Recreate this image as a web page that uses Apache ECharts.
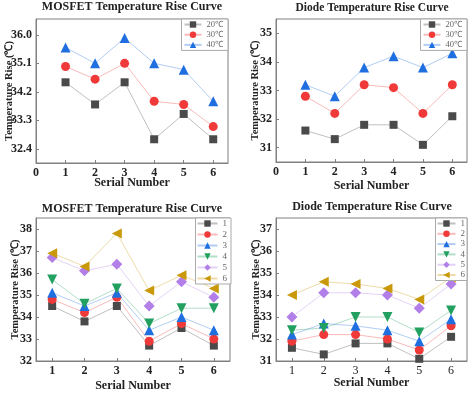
<!DOCTYPE html>
<html><head><meta charset="utf-8">
<script src="https://cdn.jsdelivr.net/npm/echarts@6/dist/echarts.min.js"></script>
<style>html,body{margin:0;padding:0;background:#fff}#c{width:471px;height:394px}</style>
</head><body><div id="c"></div>
<script>
var serial = [1, 2, 3, 4, 5, 6];
var tempNames = ['20℃', '30℃', '40℃'];
var mosT20 = [34.5, 33.8, 34.5, 32.7, 33.5, 32.7];
var mosT30 = [35.0, 34.6, 35.1, 33.9, 33.8, 33.1];
var mosT40 = [35.6, 35.1, 35.9, 35.1, 34.9, 33.9];
var dioT20 = [31.6, 31.3, 31.8, 31.8, 31.1, 32.1];
var dioT30 = [32.8, 32.2, 33.2, 33.1, 32.2, 33.2];
var dioT40 = [33.2, 32.8, 33.8, 34.2, 33.8, 34.3];
var groupNames = ['1', '2', '3', '4', '5', '6'];
var mosG1 = [34.5, 33.8, 34.5, 32.7, 33.5, 32.7];
var mosG2 = [34.8, 34.2, 34.9, 32.9, 33.7, 33.0];
var mosG3 = [35.1, 34.5, 35.1, 33.4, 34.0, 33.4];
var mosG4 = [35.7, 34.6, 35.3, 33.7, 34.4, 34.4];
var mosG5 = [36.7, 36.1, 36.4, 34.5, 35.6, 34.9];
var mosG6 = [36.9, 36.3, 37.8, 35.2, 35.9, 35.3];
var dioG1 = [31.6, 31.3, 31.8, 31.8, 31.1, 32.1];
var dioG2 = [31.9, 32.2, 32.2, 32.0, 31.5, 32.6];
var dioG3 = [32.2, 32.7, 32.6, 32.4, 31.9, 32.9];
var dioG4 = [32.4, 32.5, 33.0, 33.0, 32.3, 33.3];
var dioG5 = [33.0, 34.1, 34.1, 34.0, 33.4, 34.5];
var dioG6 = [34.0, 34.6, 34.5, 34.3, 33.8, 34.8];
var topXTicks = [0, 1, 2, 3, 4, 5, 6];
var mosTopYTicks = [32.4, 33.3, 34.2, 35.1, 36.0];
var dioTopYTicks = [31, 32, 33, 34, 35];
var mosBotYTicks = [32, 33, 34, 35, 36, 37, 38];
var dioBotYTicks = [31, 32, 33, 34, 35, 36, 37];

var FF = '"Liberation Serif","Times New Roman",serif';
var styles = [
  {color: '#4a4a4a', symbol: 'rect', size: 8, rot: 0},
  {color: '#f03a3a', symbol: 'circle', size: 9, rot: 0},
  {color: '#1f6fe0', symbol: 'triangle', size: 10, rot: 0},
  {color: '#22a060', symbol: 'triangle', size: 10, rot: 180},
  {color: '#b27ee8', symbol: 'diamond', size: 11, rot: 0},
  {color: '#c9990a', symbol: 'triangle', size: 10, rot: 90}
];
function pairs(arr) { return arr.map(function (v, i) { return [serial[i], v]; }); }
function mkSeries(name, arr, idx, st) {
  return {
    type: 'line', name: name, xAxisIndex: idx, yAxisIndex: idx,
    data: pairs(arr), symbol: st.symbol, symbolSize: st.size, symbolRotate: st.rot,
    itemStyle: {color: st.color},
    lineStyle: {color: st.color, width: 1, opacity: 0.35},
    emphasis: {disabled: true}, animation: false
  };
}
var grids = [
  {left: 36, right: 243, top: 19, height: 144},
  {left: 276, right: 4, top: 19, height: 143},
  {left: 36, right: 241, top: 218, height: 143},
  {left: 276, right: 4, top: 218, height: 143}
].map(function (g) { g.show = true; g.borderColor = '#808080'; g.borderWidth = 1; g.containLabel = false; return g; });

function xAxis(idx, min, max, ticks, bold, nameGap) {
  return {
    type: 'value', gridIndex: idx, min: min, max: max,
    name: 'Serial Number', nameLocation: 'middle', nameGap: nameGap, nameMoveOverlap: false,
    nameTextStyle: {fontFamily: FF, fontWeight: 'bold', fontSize: 12, color: '#222'},
    axisLine: {show: true, lineStyle: {color: '#808080'}},
    axisTick: {show: true, inside: true, length: 3, customValues: ticks, lineStyle: {color: '#808080'}},
    axisLabel: {customValues: ticks, fontFamily: FF, fontWeight: bold ? 'bold' : 'normal', fontSize: 12, color: '#222', margin: 4},
    splitLine: {show: false}
  };
}
function yAxis(idx, min, max, ticks, dec, nameGap) {
  return {
    type: 'value', gridIndex: idx, min: min, max: max,
    name: 'Temperature Rise (℃)', nameLocation: 'middle', nameGap: nameGap, nameMoveOverlap: false,
    nameTextStyle: {fontFamily: FF, fontWeight: 'bold', fontSize: 10.5, color: '#222'},
    axisLine: {show: true, lineStyle: {color: '#808080'}},
    axisTick: {show: true, inside: true, length: 3, customValues: ticks, lineStyle: {color: '#808080'}},
    axisLabel: {customValues: ticks, fontFamily: FF, fontWeight: 'bold', fontSize: 12, color: '#222', margin: 4,
      formatter: function (v) { return dec ? v.toFixed(1) : String(Math.round(v)); }},
    splitLine: {show: false}
  };
}
var series = [];
[mosT20, mosT30, mosT40].forEach(function (a, i) { series.push(mkSeries(tempNames[i], a, 0, styles[i])); });
[dioT20, dioT30, dioT40].forEach(function (a, i) { series.push(mkSeries(tempNames[i], a, 1, styles[i])); });
[mosG1, mosG2, mosG3, mosG4, mosG5, mosG6].forEach(function (a, i) { series.push(mkSeries(groupNames[i], a, 2, styles[i])); });
[dioG1, dioG2, dioG3, dioG4, dioG5, dioG6].forEach(function (a, i) { series.push(mkSeries(groupNames[i], a, 3, styles[i])); });

function legend(names, right, top, iw, ih, gap, pad, fs) {
  return {
    data: names, right: right, top: top, orient: 'vertical', itemWidth: iw, itemHeight: ih, itemGap: gap,
    padding: pad, borderColor: '#aaa', borderWidth: 1, borderRadius: 0, backgroundColor: '#fff',
    lineStyle: {opacity: 0.35},
    textStyle: {fontFamily: FF, fontSize: fs, color: '#666'}, selectedMode: false
  };
}
function title(text, cx, top, fs) {
  return {text: text, left: cx, top: top, textAlign: 'center', padding: 0,
    textStyle: {fontFamily: FF, fontWeight: 'bold', fontSize: fs, color: '#222'}};
}
var chart = echarts.init(document.getElementById('c'));
chart.setOption({
  animation: false,
  title: [
    title('MOSFET Temperature Rise Curve', 132, 1, 12),
    title('Diode Temperature Rise Curve', 372, 2, 11.5),
    title('MOSFET Temperature Rise Curve', 132, 203, 12),
    title('Diode Temperature Rise Curve', 372, 201, 12)
  ],
  legend: [
    legend(tempNames, 243, 19, 17, 8, 1.2, [1, 5, 1, 2], 8.5),
    legend(tempNames, 4, 19, 17, 8, 1.2, [1, 5, 1, 2], 8.5),
    legend(groupNames, 240, 218, 20, 8, 2, [1, 4, 1, 1], 9),
    legend(groupNames, 4, 218, 18, 8, 1.3, [1, 2, 1, 1], 9)
  ],
  grid: grids,
  xAxis: [
    xAxis(0, 0, 6.5, topXTicks, true, 14),
    xAxis(1, 0, 6.5, topXTicks, true, 18),
    xAxis(2, 0.5, 6.5, serial, true, 19),
    xAxis(3, 0.5, 6.5, serial, false, 16)
  ],
  yAxis: [
    yAxis(0, 31.95, 36.5, mosTopYTicks, true, 21),
    yAxis(1, 30.5, 35.5, dioTopYTicks, false, 15),
    yAxis(2, 32, 38.5, mosBotYTicks, false, 15),
    yAxis(3, 31, 37.5, dioBotYTicks, false, 14)
  ],
  series: series
});
</script></body></html>
